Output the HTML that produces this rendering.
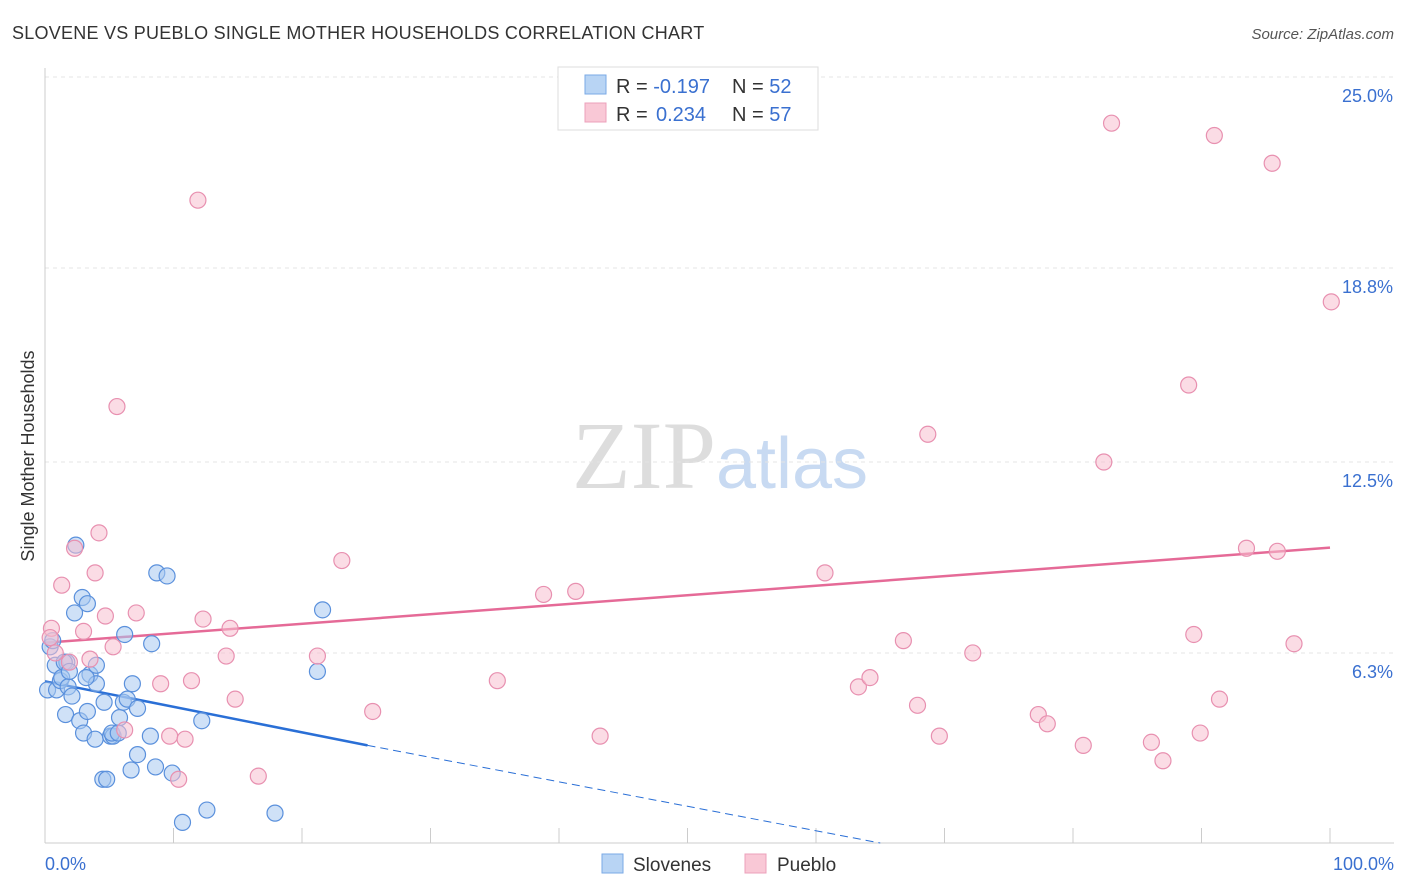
<!DOCTYPE html>
<html><head><meta charset="utf-8"><style>
body{margin:0;background:#fff;font-family:"Liberation Sans",sans-serif}
svg{display:block}
</style></head><body>
<svg id="chart" width="1406" height="892" xmlns="http://www.w3.org/2000/svg">
<text x="12" y="39" font-size="18" letter-spacing="0.25" fill="#333">SLOVENE VS PUEBLO SINGLE MOTHER HOUSEHOLDS CORRELATION CHART</text>
<text x="1394" y="39" font-size="15" fill="#555" text-anchor="end" font-style="italic">Source: ZipAtlas.com</text>
<text x="720" y="488" font-size="96" text-anchor="middle" font-family="Liberation Serif" fill="#ddd">ZIP<tspan fill="#c8daf2" font-family="Liberation Sans" font-size="72">atlas</tspan></text>
<g id="grid"></g>
<g id="axes"></g>
<g id="lines"></g>
<g id="pts"></g>
<text transform="translate(34,456) rotate(-90)" font-size="18" fill="#333" text-anchor="middle">Single Mother Households</text>
<g>
<rect x="558" y="67" width="260" height="63" fill="#fff" stroke="#ddd"/>
<rect x="585" y="75" width="21" height="19" fill="#b8d4f4" stroke="#7aaae6"/>
<rect x="585" y="103" width="21" height="19" fill="#f9c8d6" stroke="#eca0bb"/>
<text x="616" y="93" font-size="20" fill="#333">R = <tspan fill="#3a70d0">-0.197</tspan><tspan x="732">N = </tspan><tspan fill="#3a70d0">52</tspan></text>
<text x="616" y="121" font-size="20" fill="#333">R = <tspan fill="#3a70d0" x="656">0.234</tspan><tspan x="732">N = </tspan><tspan fill="#3a70d0">57</tspan></text>
</g>
<g>
<rect x="602" y="854" width="21" height="19" fill="#b8d4f4" stroke="#7aaae6"/>
<text x="633" y="871" font-size="19" fill="#333">Slovenes</text>
<rect x="745" y="854" width="21" height="19" fill="#f9c8d6" stroke="#eca0bb"/>
<text x="777" y="871" font-size="19" fill="#333">Pueblo</text>
</g>
</svg>
<script>
const yTicks=[6.3,12.5,18.8,25.0];
const yTickLabels=["6.3%","12.5%","18.8%","25.0%"];
const xTickLabels=["0.0%","100.0%"];
const sloveneX=[0.2,0.8,0.9,0.4,1.2,1.3,1.7,1.8,2.1,1.6,2.4,2.3,2.9,3.3,2.7,3.0,3.3,3.9,3.5,4.0,4.0,4.6,5.1,5.3,5.2,5.8,6.1,6.4,6.2,6.8,7.2,7.2,6.7,4.5,4.8,8.2,8.3,8.6,8.7,9.5,9.9,10.7,12.6,12.2,17.9,21.2,21.6,0.6,1.5,1.9,3.2,5.7];
const sloveneY=[5.1,5.9,5.1,6.5,5.4,5.5,6.0,5.2,4.9,4.3,9.8,7.6,8.1,7.9,4.1,3.7,4.4,3.5,5.6,5.9,5.3,4.7,3.6,3.6,3.7,4.2,4.7,4.8,6.9,5.3,4.5,3.0,2.5,2.2,2.2,3.6,6.6,2.6,8.9,8.8,2.4,0.8,1.2,4.1,1.1,5.7,7.7,6.7,6.0,5.7,5.5,3.7];
const puebloX=[0.5,0.4,0.8,1.3,1.9,2.3,3.0,3.5,3.9,4.2,4.7,5.3,5.6,6.2,7.1,9.0,9.7,10.4,10.9,11.4,11.9,12.3,14.1,14.4,14.8,16.6,21.2,23.1,25.5,35.2,38.8,41.3,43.2,60.7,63.3,64.2,66.8,67.9,68.7,69.6,72.2,77.3,78.0,80.8,82.4,83.0,86.1,87.0,89.0,89.4,89.9,91.0,91.4,93.5,95.5,95.9,97.2,100.1];
const puebloY=[7.1,6.8,6.3,8.5,6.0,9.7,7.0,6.1,8.9,10.2,7.5,6.5,14.3,3.8,7.6,5.3,3.6,2.2,3.5,5.4,21.0,7.4,6.2,7.1,4.8,2.3,6.2,9.3,4.4,5.4,8.2,8.3,3.6,8.9,5.2,5.5,6.7,4.6,13.4,3.6,6.3,4.3,4.0,3.3,12.5,23.5,3.4,2.8,15.0,6.9,3.7,23.1,4.8,9.7,22.2,9.6,6.6,17.7];
const sloveneTrend=[[0,5.38],[25.1,3.3],[65,0]];
const puebloTrend=[[0,6.63],[100,9.72]];
const X=v=>45+v*12.85, Y=v=>847-v*30.8;
const NS="http://www.w3.org/2000/svg";
function mk(p,t,a){const e=document.createElementNS(NS,t);for(const k in a)e.setAttribute(k,a[k]);document.getElementById(p).appendChild(e);return e;}
yTicks.forEach((t,i)=>{
 const l=mk("grid","line",{x1:45,x2:1394,y1:Y(t),y2:Y(t),stroke:"#e4e4e4","stroke-dasharray":"4,4"});
 
 
 const tx=mk("axes","text",{x:1393,y:Y(t)+25,"font-size":18,fill:"#3a70d0","text-anchor":"end"});
 tx.textContent=yTickLabels[i];
 
 
});
let ax=mk("axes","line",{x1:45,x2:1394,y1:843,y2:843,stroke:"#ccc"});


let ay=mk("axes","line",{x1:45,x2:45,y1:68,y2:843,stroke:"#ccc"});


for(let i=0;i<=10;i++){const t=mk("axes","line",{x1:X(i*10),x2:X(i*10),y1:828,y2:843,stroke:"#ccc"});
 
 }
[[0,"start",45],[100,"end",1394]].forEach((d,i)=>{const t=mk("axes","text",{x:d[2],y:870,"font-size":18,fill:"#3a70d0","text-anchor":d[1]});t.textContent=xTickLabels[i];
 
 });
function dot(x,y,f,s,n){const c=mk("pts","circle",{cx:X(x),cy:Y(y),r:8,fill:f,"fill-opacity":0.55,stroke:s,"stroke-width":1.2});
 
 }
sloveneX.forEach((x,i)=>dot(x,sloveneY[i],"#a8c8f0","#5a90dc","slovene-point"));
puebloX.forEach((x,i)=>dot(x,puebloY[i],"#f8c0d0","#e890b0","pueblo-point"));
let t1=mk("lines","line",{x1:X(sloveneTrend[0][0]),y1:Y(sloveneTrend[0][1]),x2:X(sloveneTrend[1][0]),y2:Y(sloveneTrend[1][1]),stroke:"#2a6fd6","stroke-width":2.5});


let t2=mk("lines","line",{x1:X(sloveneTrend[1][0]),y1:Y(sloveneTrend[1][1]),x2:X(sloveneTrend[2][0]),y2:Y(sloveneTrend[2][1])-4,stroke:"#2a6fd6","stroke-width":1,"stroke-dasharray":"8,5"});


let t3=mk("lines","line",{x1:X(puebloTrend[0][0]),y1:Y(puebloTrend[0][1]),x2:X(puebloTrend[1][0]),y2:Y(puebloTrend[1][1]),stroke:"#e56a97","stroke-width":2.5});


</script>
</body></html>
